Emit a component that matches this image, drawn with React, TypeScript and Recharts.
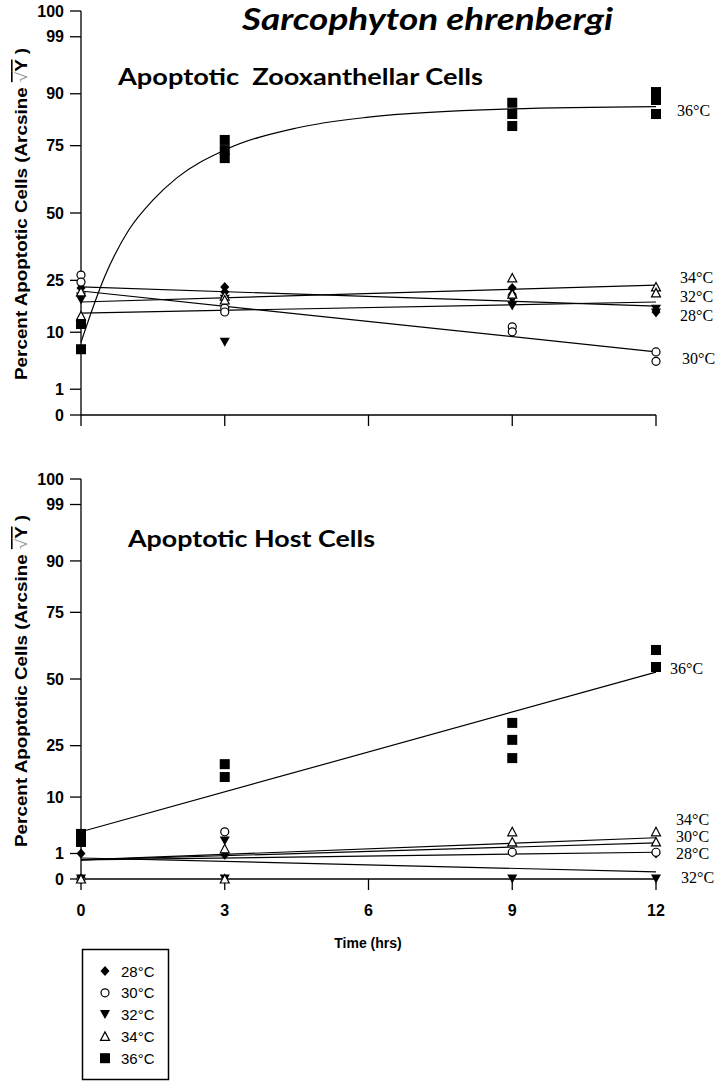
import React from "react";
import { ComposedChart, Line, Scatter, XAxis, YAxis } from "recharts";

// time (hrs) and the arcsine-spaced percent ticks
const timeTicks = [0, 3, 6, 9, 12];
const pctTicks = [0, 1, 10, 25, 50, 75, 90, 99, 100];
const tempNames = ["28°C", "30°C", "32°C", "34°C", "36°C"];

// apoptotic zooxanthellar cells, [time, percent]
const zoox28 = [[0, 22.5], [3, 22.8], [3, 21.2], [9, 22.5], [9, 20.5], [12, 15.2]];
const zoox30 = [[0, 26.8], [0, 24.4], [3, 16.3], [3, 15.2], [9, 11.3], [9, 10.1], [12, 5.9], [12, 4.3]];
const zoox32 = [[0, 19.6], [0, 18.7], [3, 7.8], [3, 18.9], [9, 18.7], [9, 16.9], [12, 16.0], [12, 14.9]];
const zoox34 = [[0, 21.2], [0, 14.1], [3, 19.9], [3, 18.7], [9, 25.8], [9, 20.5], [12, 22.8], [12, 20.9]];
const zoox36 = [[0, 12.0], [0, 6.4], [3, 76.9], [3, 73.5], [3, 70.7], [9, 87.8], [9, 84.8], [9, 81.3], [12, 90.4], [12, 88.5], [12, 84.8]];

// fitted lines
const zooxFit28 = [[0, 22.8], [12, 16.9]];
const zooxFit30 = [[0, 21.5], [12, 5.9]];
const zooxFit32 = [[0, 14.9], [12, 18.1]];
const zooxFit34 = [[0, 18.1], [12, 23.4]];
const zooxFit36 = [[0, 7.8], [0.5, 26.5], [1, 43.5], [1.5, 55.0], [2, 63.5], [3, 73.5], [4.5, 80.7], [6, 83.9], [9, 86.2], [12, 86.8]];

// apoptotic host cells, [time, percent]
const host28 = [[0, 1.0], [3, 0.9], [9, 1.1], [12, 1.0]];
const host30 = [[0, 0], [3, 3.4], [9, 1.1], [12, 1.1]];
const host32 = [[0, 0], [3, 2.2], [3, 0], [9, 0], [12, 0]];
const host34 = [[0, 0], [3, 1.4], [3, 0], [9, 3.4], [9, 2.1], [12, 3.4], [12, 2.1]];
const host36 = [[0, 3.1], [0, 2.1], [3, 19.0], [3, 15.2], [9, 33.1], [9, 27.0], [9, 20.9], [12, 61.3], [12, 54.7]];

const hostFit28 = [[0, 0.56], [12, 1.1]];
const hostFit30 = [[0, 0.56], [12, 2.0]];
const hostFit32 = [[0, 0.68], [12, 0.08]];
const hostFit34 = [[0, 0.56], [12, 2.6]];
const hostFit36 = [[0, 3.4], [12, 52.7]];

const toArc = (p: number) => (Math.asin(Math.sqrt(p / 100)) * 180) / Math.PI;
const pts = (arr: number[][]) => arr.map(([t, p]) => ({ t, y: toArc(p) }));
const arcTicks = pctTicks.map(toArc);

const kinds = ["diamond", "circle", "down", "up", "square"];

function Marker({ kind, cx, cy }: { kind: string; cx: number; cy: number }) {
  if (cx == null || cy == null) return null;
  switch (kind) {
    case "diamond":
      return <polygon points={`${cx},${cy - 5} ${cx + 4.5},${cy} ${cx},${cy + 5} ${cx - 4.5},${cy}`} fill="#000" />;
    case "circle":
      return <circle cx={cx} cy={cy} r={4} fill="#fff" stroke="#000" strokeWidth={1.2} />;
    case "down":
      return <polygon points={`${cx - 5},${cy - 4.5} ${cx + 5},${cy - 4.5} ${cx},${cy + 4.5}`} fill="#000" />;
    case "up":
      return <polygon points={`${cx - 4.5},${cy + 4} ${cx + 4.5},${cy + 4} ${cx},${cy - 4.5}`} fill="#fff" stroke="#000" strokeWidth={1.2} />;
    default:
      return <rect x={cx - 5} y={cy - 5} width={10} height={10} fill="#000" />;
  }
}

const tickFont = { fontFamily: "'Liberation Sans', Arial, sans-serif", fontWeight: 700, fontSize: 16, fill: "#000" };

function Panel({
  points,
  fits,
  height,
  margin,
  showX,
}: {
  points: number[][][];
  fits: number[][][];
  height: number;
  margin: { top: number; right: number; bottom: number; left: number };
  showX: boolean;
}) {
  return (
    <ComposedChart width={727} height={height} margin={margin}>
      <XAxis
        dataKey="t"
        type="number"
        domain={[0, 12]}
        ticks={timeTicks}
        interval={0}
        height={showX ? 60 : 25}
        axisLine={{ stroke: "#000", strokeWidth: 1.3 }}
        tickLine={{ stroke: "#000", strokeWidth: 1.3 }}
        tickSize={11}
        tickMargin={15}
        tick={tickFont}
        tickFormatter={(v) => (showX ? String(v) : "")}
      />
      <YAxis
        dataKey="y"
        type="number"
        domain={[0, 90]}
        ticks={arcTicks}
        interval={0}
        width={71}
        axisLine={{ stroke: "#000", strokeWidth: 1.3 }}
        tickLine={{ stroke: "#000", strokeWidth: 1.3 }}
        tickSize={11}
        tickMargin={6}
        tick={tickFont}
        tickFormatter={(v, i) => String(pctTicks[i])}
      />
      {fits.map((f, i) => (
        <Line
          key={"fit" + i}
          data={pts(f)}
          dataKey="y"
          type={i === 4 && f.length > 2 ? "monotone" : "linear"}
          stroke="#000"
          strokeWidth={1.2}
          dot={false}
          activeDot={false}
          isAnimationActive={false}
        />
      ))}
      {points.map((p, i) => (
        <Scatter
          key={"pts" + i}
          data={pts(p)}
          dataKey="y"
          isAnimationActive={false}
          shape={(props: any) => <Marker kind={kinds[i]} cx={props.cx} cy={props.cy} />}
        />
      ))}
    </ComposedChart>
  );
}

const serif = "'Liberation Serif', 'Times New Roman', serif";
const sans = "'Liberation Sans', Arial, sans-serif";

function YLabel({ cy }: { cy: number }) {
  return (
    <text
      transform={`translate(21, ${cy}) rotate(-90)`}
      textAnchor="middle"
      dominantBaseline="central"
      fontFamily={sans}
      fontWeight={700}
      fontSize={16}
      fill="#000"
      textLength={332}
      lengthAdjust="spacingAndGlyphs"
    >
      Percent Apoptotic Cells (Arcsine{" "}
      <tspan style={{ textDecoration: "overline" }}>
        <tspan fill="#999" fontWeight={400}>√</tspan>Y
      </tspan>{" "}
      )
    </text>
  );
}

export default function App() {
  return (
    <div style={{ position: "absolute", left: 0, top: 0, width: 727, height: 1085, background: "#fff" }}>
      <div style={{ position: "absolute", left: 0, top: 0 }}>
        <Panel
          points={[zoox28, zoox30, zoox32, zoox34, zoox36]}
          fits={[zooxFit28, zooxFit30, zooxFit32, zooxFit34, zooxFit36]}
          height={440}
          margin={{ top: 11, right: 71, bottom: 0, left: 10 }}
          showX={false}
        />
      </div>
      <div style={{ position: "absolute", left: 0, top: 440 }}>
        <Panel
          points={[host28, host30, host32, host34, host36]}
          fits={[hostFit28, hostFit30, hostFit32, hostFit34, hostFit36]}
          height={520}
          margin={{ top: 39, right: 71, bottom: 21, left: 10 }}
          showX={true}
        />
      </div>

      <svg width={727} height={1085} style={{ position: "absolute", left: 0, top: 0, pointerEvents: "none" }}>
        <text x={242} y={30} fontFamily="Lato, 'Open Sans', sans-serif" fontStyle="italic" fontWeight={700} fontSize={30} textLength={371} lengthAdjust="spacingAndGlyphs">
          Sarcophyton ehrenbergi
        </text>
        <text x={118} y={85} fontFamily="Lato, 'Open Sans', sans-serif" fontWeight={700} fontSize={23} textLength={365} lengthAdjust="spacingAndGlyphs" style={{ whiteSpace: "pre" }}>
          Apoptotic  Zooxanthellar Cells
        </text>
        <text x={128} y={547} fontFamily="Lato, 'Open Sans', sans-serif" fontWeight={700} fontSize={23} textLength={247} lengthAdjust="spacingAndGlyphs">
          Apoptotic Host Cells
        </text>

        <YLabel cy={214} />
        <YLabel cy={681} />

        <g fontFamily={serif} fontSize={16} fill="#000" dominantBaseline="central">
          <text x={677} y={110}>{tempNames[4]}</text>
          <text x={680} y={277}>{tempNames[3]}</text>
          <text x={680} y={296}>{tempNames[2]}</text>
          <text x={680} y={315}>{tempNames[0]}</text>
          <text x={682} y={358}>{tempNames[1]}</text>

          <text x={670} y={668}>{tempNames[4]}</text>
          <text x={676} y={819}>{tempNames[3]}</text>
          <text x={676} y={836}>{tempNames[1]}</text>
          <text x={676} y={853}>{tempNames[0]}</text>
          <text x={681} y={877}>{tempNames[2]}</text>
        </g>

        <text x={368} y={943} textAnchor="middle" dominantBaseline="central" fontFamily={sans} fontWeight={700} fontSize={14}>
          Time (hrs)
        </text>

        <rect x={82.5} y={949.5} width={86} height={130} fill="none" stroke="#000" strokeWidth={1.5} />
        {tempNames.map((name, i) => {
          const cy = 971 + i * 21.8;
          return (
            <g key={name}>
              <Marker kind={kinds[i]} cx={105} cy={cy} />
              <text x={121} y={cy} dominantBaseline="central" fontFamily={sans} fontSize={15}>
                {name}
              </text>
            </g>
          );
        })}
      </svg>
    </div>
  );
}
